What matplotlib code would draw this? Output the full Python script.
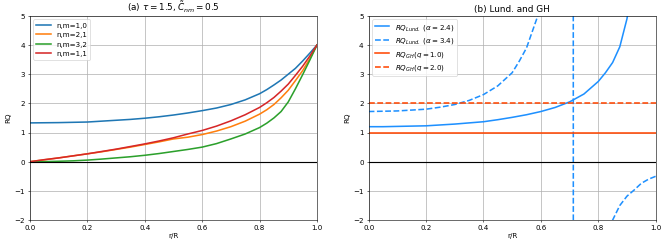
# rq_profiles.py
# --------------------------------------------------------
# Radial RQ profiles: (a) single modes, (b) Lundquist vs GH

import numpy as np
import matplotlib
matplotlib.use("Agg")
import matplotlib.pyplot as plt

# ---------- Data ----------
r_a = [0.0, 0.05, 0.1, 0.15, 0.2, 0.25, 0.3, 0.35, 0.4, 0.45, 0.5, 0.55,
       0.6, 0.65, 0.7, 0.75, 0.8, 0.825, 0.85, 0.875, 0.9, 0.925, 0.95,
       0.975, 1.0]

rq_10 = [1.33, 1.335, 1.34, 1.35, 1.36, 1.39, 1.42, 1.45, 1.49, 1.54, 1.60,
         1.67, 1.75, 1.84, 1.96, 2.12, 2.33, 2.47, 2.63, 2.80, 3.00, 3.20,
         3.45, 3.72, 4.0]
rq_21 = [0.0, 0.065, 0.13, 0.20, 0.27, 0.34, 0.42, 0.50, 0.59, 0.68, 0.78,
         0.84, 0.93, 1.05, 1.20, 1.39, 1.63, 1.78, 1.96, 2.19, 2.45, 2.78,
         3.12, 3.53, 4.0]
rq_32 = [0.0, 0.003, 0.015, 0.03, 0.055, 0.09, 0.13, 0.17, 0.22, 0.28, 0.35,
         0.42, 0.50, 0.62, 0.78, 0.95, 1.17, 1.32, 1.50, 1.72, 2.05, 2.50,
         2.98, 3.48, 4.0]
rq_11 = [0.0, 0.07, 0.13, 0.20, 0.27, 0.35, 0.43, 0.52, 0.61, 0.71, 0.82,
         0.95, 1.07, 1.22, 1.40, 1.61, 1.86, 2.02, 2.20, 2.42, 2.66, 2.96,
         3.27, 3.62, 4.0]
labels_a = ["n,m=1,0", "n,m=2,1", "n,m=3,2", "n,m=1,1"]

r_lund1 = [0.0, 0.05, 0.1, 0.15, 0.2, 0.25, 0.3, 0.35, 0.4, 0.45, 0.5, 0.55,
           0.6, 0.65, 0.7, 0.75, 0.8, 0.825, 0.85, 0.875, 0.9, 0.925, 0.95,
           0.975, 1.0]
rq_lund1 = [1.20, 1.20, 1.21, 1.22, 1.23, 1.26, 1.29, 1.33, 1.37, 1.44, 1.52,
            1.61, 1.72, 1.86, 2.05, 2.32, 2.75, 3.05, 3.40, 3.94, 4.90, 6.5,
            9.5, 16.0, 35.0]

r_lund2 = [0.0, 0.05, 0.1, 0.15, 0.2, 0.25, 0.3, 0.35, 0.4, 0.45, 0.5, 0.525,
           0.55, 0.575, 0.6, 0.65, 0.71, 0.716, 0.75, 0.8, 0.85, 0.875, 0.9,
           0.925, 0.95, 0.975, 1.0]
rq_lund2 = [1.72, 1.73, 1.74, 1.77, 1.80, 1.87, 1.96, 2.10, 2.30, 2.60, 3.05,
            3.45, 3.90, 4.60, 5.30, 9.0, 150.0, -150.0, -15.0, -4.5, -2.0,
            -1.5, -1.18, -0.97, -0.74, -0.60, -0.50]

r_gh = [0.0, 1.0]
rq_gh1 = [1.0, 1.0]
rq_gh2 = [2.0, 2.0]

# ---------- Figure ----------
DPI = 665 / 13
fig, (ax1, ax2) = plt.subplots(1, 2, figsize=(13, 244.3 / DPI), dpi=DPI)
fig.subplots_adjust(left=0.045, right=0.986, bottom=0.098, top=0.934,
                    wspace=0.18)

# ---- (a) ----
for rq, lab in zip([rq_10, rq_21, rq_32, rq_11], labels_a):
    ax1.plot(r_a, rq, lw=2.2, label=lab)
ax1.axhline(0, color="k", lw=1.6)
ax1.set_title(r"(a) $\tau=1.5, \tilde{C}_{nm}=0.5$", fontsize=12.5)
ax1.legend(loc="upper left")

# ---- (b) ----
ax2.plot(r_lund1, rq_lund1, color="dodgerblue", lw=2.2,
         label=r"$RQ_{Lund.}$ $(\alpha=2.4)$")
ax2.plot(r_lund2, rq_lund2, color="dodgerblue", lw=2.2, ls="--",
         label=r"$RQ_{Lund.}$ $(\alpha=3.4)$")
ax2.plot(r_gh, rq_gh1, color="orangered", lw=2.2, label=r"$RQ_{GH}(q=1.0)$")
ax2.plot(r_gh, rq_gh2, color="orangered", lw=2.2, ls="--",
         label=r"$RQ_{GH}(q=2.0)$")
ax2.axhline(0, color="k", lw=1.6)
ax2.set_title("(b) Lund. and GH", fontsize=12.5)
ax2.legend(loc="upper left")

for ax in (ax1, ax2):
    ax.set_xlim(0, 1)
    ax.set_ylim(-2, 5)
    ax.set_xlabel("r/R", labelpad=2)
    ax.set_ylabel("RQ")
    ax.grid(True, lw=1.0)

fig.savefig("out.png")
